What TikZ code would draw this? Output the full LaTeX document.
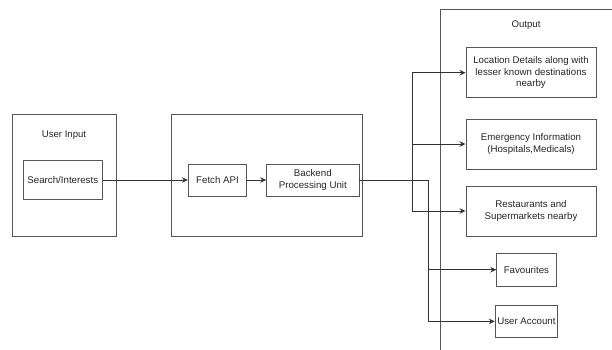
\documentclass[tikz,border=0pt]{standalone}
\usepackage{fontspec}
\setmainfont{Liberation Sans}
\usetikzlibrary{arrows.meta,positioning}
\definecolor{edgegray}{HTML}{333333}
\definecolor{framegray}{HTML}{555555}
\tikzset{
  group box/.style={draw=framegray,line width=.9pt,inner sep=0pt},
  group label/.style={font=\fontsize{9.6}{11}\selectfont,text=black!85,inner sep=1pt},
  stage box/.style={draw=framegray,line width=.9pt,inner sep=2pt,align=center,
    text=black!85,font=\fontsize{9.7}{11.7}\selectfont},
  flow/.style={draw=edgegray,line width=.9pt,-{Stealth[length=6pt,width=5.5pt]}}
}

\begin{document}
\begin{tikzpicture}[x=1pt,y=-1pt,line join=miter]
  \useasboundingbox (0,0) rectangle (612,349);

  % containers
  \node[group box,minimum width=103.3pt,minimum height=122.7pt] (inbox) at (64.3,175.4) {};
  \node[group box,minimum width=190.6pt,minimum height=122.7pt] (midbox) at (267,175.4) {};
  \node[group box,minimum width=200pt,minimum height=342pt] (outbox) at (540,180) {};
  \node[group label] (inlabel) at (64,135) {User Input};
  \node[group label] (outlabel) at (526,25) {Output};

  % steps
  \node[stage box,minimum width=79pt,minimum height=39pt] (search) at (62.8,180) {Search/Interests};
  \node[stage box,minimum width=58.4pt,minimum height=32pt] (fetch) at (217.5,180) {Fetch API};
  \node[stage box,minimum width=92.3pt,minimum height=32pt] (backend) at (312.8,180) {Backend\\Processing Unit};

  \node[stage box,minimum width=130pt,minimum height=50pt] (location) at (531,72.7)
    {Location Details along with\\lesser known destinations\\nearby};
  \node[stage box,minimum width=130pt,minimum height=50pt] (emergency) at (531,144)
    {Emergency Information\\(Hospitals,Medicals)};
  \node[stage box,minimum width=130pt,minimum height=50pt] (shops) at (531,211)
    {Restaurants and\\Supermarkets nearby};
  \node[stage box,minimum width=59.3pt,minimum height=32.7pt] (favs) at (526.4,269.7) {Favourites};
  \node[stage box,minimum width=59.3pt,minimum height=32.7pt] (account) at (526.4,321.4) {User Account};

  \coordinate (busA) at (412.3,180);
  \coordinate (busB) at (428.3,180);

  % connectors
  \draw[flow] (search) -- (fetch);
  \draw[flow] (fetch) -- (backend);
  \draw[flow] (backend.east) -- (busA) |- (location.west);
  \draw[flow] (backend.east) -- (busA) |- (emergency.west);
  \draw[flow] (backend.east) -- (busA) |- (shops.west);
  \draw[flow] (backend.east) -- (busB) |- (favs.west);
  \draw[flow] (backend.east) -- (busB) |- (account.west);
\end{tikzpicture}
\end{document}
